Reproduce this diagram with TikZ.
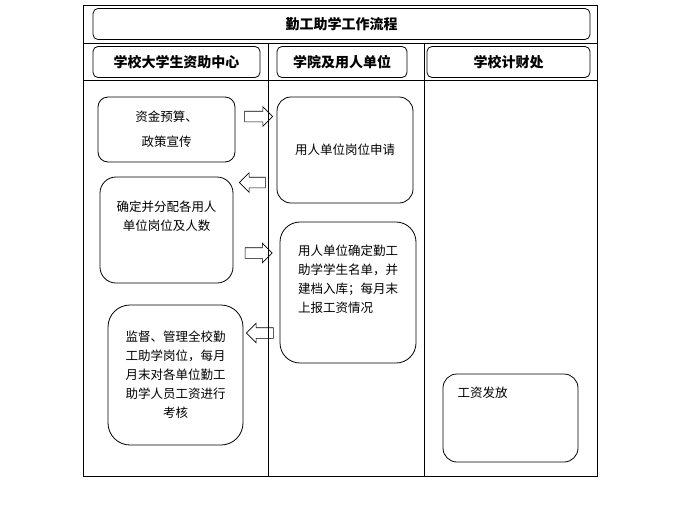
\documentclass[tikz,border=0pt]{standalone}
\usepackage{fontspec}
\setmainfont{Noto Sans CJK SC}
\usetikzlibrary{shapes.arrows}
\definecolor{flowink}{HTML}{000000}

\begin{document}
\begin{tikzpicture}[
  x=1pt,
  y=-1pt,
  every node/.style={font=\fontsize{12.5}{19}\selectfont, text=flowink},
  frame/.style={flowink, line width=0.8pt},
  head/.style={draw=flowink, rounded corners=5pt, line width=0.8pt,
    font=\fontsize{14}{16}\selectfont\bfseries},
  task/.style={draw=flowink, rounded corners=14pt, line width=0.8pt},
  bigarrow/.style={draw=flowink, single arrow, single arrow head extend=4.5pt,
    inner xsep=0pt, inner ysep=5pt, minimum height=27pt, line width=0.6pt}
]
  % ---- page size of the reference ----
  \useasboundingbox (0,0) rectangle (681,520);

  % ---- frame and lanes ----
  \draw[frame] (83,5) rectangle (597,476);
  \draw[frame] (83,43) -- (597,43);
  \draw[frame] (83,80) -- (597,80);
  \draw[frame] (268,43) -- (268,476);
  \draw[frame] (424,43) -- (424,476);

  % ---- title and lane heads ----
  \node[head, minimum width=497pt, minimum height=31pt] (title) at (341.5,24) {勤工助学工作流程};
  \node[head, minimum width=167pt, minimum height=31pt] (lanecenter) at (176.5,62) {学校大学生资助中心};
  \node[head, minimum width=130pt, minimum height=31pt] (laneunit) at (342,62) {学院及用人单位};
  \node[head, minimum width=163pt, minimum height=31pt] (lanefinance) at (508.5,62) {学校计财处};

  % ---- steps ----
  \node[task, rounded corners=10pt, minimum width=137pt, minimum height=65pt,
    align=center, font=\fontsize{12.5}{25}\selectfont] (budget) at (166.5,129.5)
    {资金预算、\\政策宣传};
  \node[task, minimum width=136pt, minimum height=106pt] (apply) at (345,150)
    {用人单位岗位申请};
  \node[task, rounded corners=16pt, minimum width=133pt, minimum height=106pt] (alloc) at (166.5,230) {};
  \node[align=center] (alloctext) at (166.5,216.5) {确定并分配各用人\\单位岗位及人数};
  \node[task, rounded corners=20pt, minimum width=136pt, minimum height=141pt] (roster) at (348,292.5) {};
  \node[align=left] (rostertext) at (348,279.5)
    {用人单位确定勤工\\助学学生名单，并\\建档入库；每月末\\上报工资情况};
  \node[task, rounded corners=22pt, minimum width=135pt, minimum height=140pt,
    align=center] (audit) at (175.5,375)
    {监督、管理全校勤\\工助学岗位，每月\\月末对各单位勤工\\助学人员工资进行\\考核};
  \node[task, minimum width=135pt, minimum height=88pt] (payout) at (510.5,418) {};
  \node (payouttext) at (482.5,393) {工资发放};

  % ---- block arrows between the lanes ----
  \node[bigarrow, minimum height=28pt] (toapply) at (256,116.5) {};
  \node[bigarrow, minimum height=26pt, shape border rotate=180] (toalloc) at (255,182.5) {};
  \node[bigarrow] (toroster) at (256,253) {};
  \node[bigarrow, shape border rotate=180] (toaudit) at (262.5,333) {};
\end{tikzpicture}
\end{document}
